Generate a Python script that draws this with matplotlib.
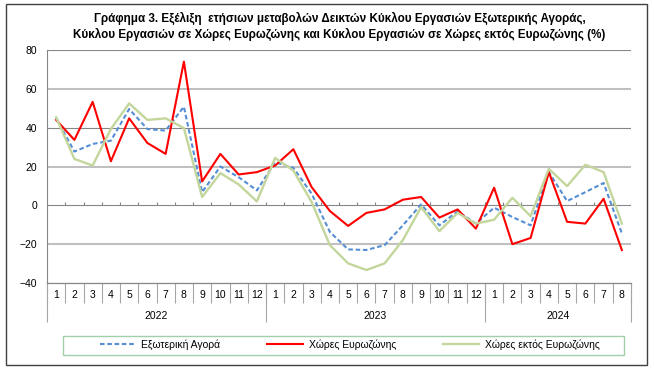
import matplotlib
matplotlib.use('Agg')
import matplotlib.pyplot as plt
from matplotlib.lines import Line2D
from matplotlib.patches import Rectangle
import numpy as np

plt.rcParams['font.family'] = ['Liberation Sans', 'DejaVu Sans']

# monthly labels: 2022 (1-12), 2023 (1-12), 2024 (1-8)
months = list(range(1, 13)) + list(range(1, 13)) + list(range(1, 9))
years = ['2022', '2023', '2024']
year_len = [12, 12, 8]

# annual % change of turnover indices
exo_market = [45, 27.7, 31.6, 33.3, 49.6, 39.3, 38.5, 50.8, 6.8, 20, 14.5, 7.7,
              22.2, 19.3, 6, -13.7, -22.7, -23, -20.5, -10.3, 0.5, -10.3, -3.1, -9.4,
              -1.2, -6, -10.3, 17.1, 2.2, 6.8, 11.5, -14.5]
eurozone = [44, 33.7, 53.3, 22.7, 44.8, 32.1, 26.5, 74, 12.3, 26.5, 15.9, 17.1,
            20.5, 28.9, 9.4, -2.9, -10.6, -3.9, -2.1, 2.9, 4.3, -6.3, -2.1, -12,
            9.1, -20, -16.8, 17.1, -8.5, -9.4, 3.4, -23]
non_eurozone = [45.3, 23.9, 20.5, 39.3, 52.5, 44, 44.8, 39.8, 4.3, 16.6, 10.8, 2,
                24.4, 17.9, 1.7, -20.5, -29.9, -33.3, -29.9, -17.9, -0.9, -13.3, -3.9, -9.4,
                -7.4, 3.9, -5.6, 18.8, 9.9, 20.9, 17.1, -9.4]

labels = ['Εξωτερική Αγορά', 'Χώρες Ευρωζώνης', 'Χώρες εκτός Ευρωζώνης']
colors = ['#558ed5', '#ff0000', '#c3d69b']

fig = plt.figure(figsize=(6.54, 3.71), dpi=100)
ax = fig.add_axes([0.0719, 0.2372, 0.8929, 0.628])

x = np.arange(len(months))

# gridlines (alternating look like the original)
for v in range(-40, 81, 20):
    if v in (60, 20, -20):
        ax.axhline(v, color='#c0c0c0', lw=1.5, zorder=0)
    else:
        ax.axhline(v, color='#868686', lw=0.8, zorder=0)

# small tick marks on the zero line
bounds = np.arange(-0.5, len(months), 1)
ax.vlines(bounds, 0, 1.5, color='#868686', lw=0.8, zorder=1)

ax.plot(x, exo_market, color=colors[0], lw=1.5, ls=(0, (2.2, 1.3)), zorder=3)
ax.plot(x, eurozone, color=colors[1], lw=1.5, zorder=3)
ax.plot(x, non_eurozone, color=colors[2], lw=1.7, zorder=3)

ax.set_xlim(-0.5, len(months) - 0.5)
ax.set_ylim(-40, 80)
ax.set_yticks(range(-40, 81, 20))
ax.tick_params(axis='y', length=0, labelsize=7.5, pad=7)

for s in ['top', 'right']:
    ax.spines[s].set_visible(False)
ax.spines['left'].set_color('#868686')
ax.spines['bottom'].set_color('#868686')
ax.spines['left'].set_linewidth(0.8)
ax.spines['bottom'].set_linewidth(0.8)

# month labels with separators
ax.set_xticks(bounds)
ax.set_xticklabels([])
ax.set_xticks(x, [str(m) for m in months], minor=True)
ax.tick_params(axis='x', which='major', length=14.5, width=0.8, color='#a6a6a6')
ax.tick_params(axis='x', which='minor', length=0, labelsize=7.5, pad=5)

# year labels on a second row
ybounds = np.concatenate([[-0.5], np.cumsum(year_len) - 0.5])
ycenters = (ybounds[:-1] + ybounds[1:]) / 2
sec = ax.secondary_xaxis('bottom')
sec.set_xticks(ybounds)
sec.set_xticklabels([])
sec.set_xticks(ycenters, years, minor=True)
sec.tick_params(axis='x', which='major', length=28, width=0.8, color='#a6a6a6')
sec.tick_params(axis='x', which='minor', length=0, labelsize=7.5, pad=20)
sec.spines['bottom'].set_color('#868686')
sec.spines['bottom'].set_linewidth(0.8)

fig.text(0.519, 0.951, 'Γράφημα 3. Εξέλιξη  ετήσιων μεταβολών Δεικτών Κύκλου Εργασιών Εξωτερικής Αγοράς,',
         ha='center', va='center', fontsize=8.4, fontweight='bold')
fig.text(0.519, 0.908, 'Κύκλου Εργασιών σε Χώρες Ευρωζώνης και Κύκλου Εργασιών σε Χώρες εκτός Ευρωζώνης (%)',
         ha='center', va='center', fontsize=8.4, fontweight='bold')

# legend
handles = [Line2D([], [], color=colors[0], lw=1.5, ls=(0, (2.2, 1.3))),
           Line2D([], [], color=colors[1], lw=1.5),
           Line2D([], [], color=colors[2], lw=1.7)]
fig.legend(handles, labels, loc='center', bbox_to_anchor=(0.535, 0.072), ncol=3,
           frameon=False, fontsize=7.5, handlelength=3.4, columnspacing=4.5, handletextpad=0.6)
fig.add_artist(Rectangle((0.0963, 0.043), 0.858, 0.051, transform=fig.transFigure,
                         fill=False, edgecolor='#9fd0aa', lw=1))

# outer frame
fig.add_artist(Rectangle((6 / 654, 1 - 365 / 371), 641 / 654, 361 / 371, transform=fig.transFigure,
                         fill=False, edgecolor='#404040', lw=1))

fig.savefig('out.png', dpi=100)
